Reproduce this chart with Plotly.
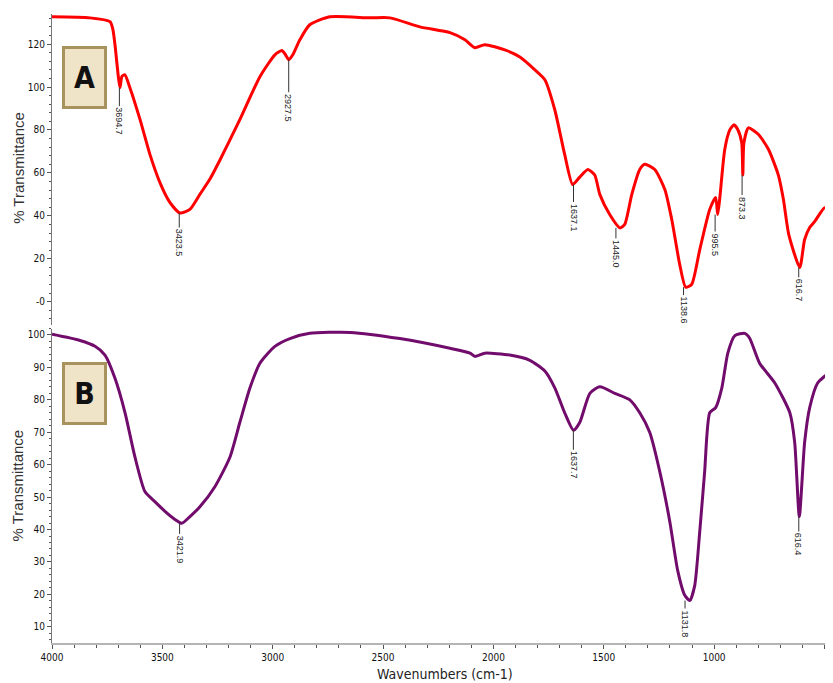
import plotly.graph_objects as go

# ---- Spectrum A (red) ----
wn_a = [4000, 3828, 3737, 3724, 3715, 3692, 3683, 3670, 3647, 3601, 3556, 3511, 3466,
        3420, 3375, 3330, 3285, 3239, 3149, 3058, 2990, 2958, 2945, 2927, 2909, 2877,
        2832, 2741, 2560, 2469, 2333, 2197, 2129, 2084, 2039, 1948, 1880, 1812, 1767,
        1722, 1677, 1641, 1609, 1572, 1541, 1518, 1473, 1427, 1405, 1373, 1337, 1314,
        1269, 1223, 1192, 1156, 1129, 1102, 1065, 1020, 993, 984, 975, 952, 929, 910,
        892, 875, 870, 865, 845, 800, 754, 709, 686, 662, 612, 590, 567, 544, 499, 476]
tr_a = [132.7, 132.2, 130.4, 126.7, 120, 99.7, 105, 105.7, 99.7, 84.8, 68.5, 55.5, 46.3,
        41.3, 43, 50, 57, 66, 84.8, 104.8, 115, 117, 115.5, 112.7, 115, 122,
        129, 132.7, 132.2, 132.2, 128, 125.3, 122, 118.3, 119.7, 117.3, 114, 108, 103.4,
        89.4, 68.5, 54.6, 58, 61.6, 59, 50, 40.6, 34.4, 36, 50, 61.6, 64,
        61.6, 52.2, 38.3, 17.4, 6.8, 8, 24.3, 43, 48.6, 40.6, 47.6, 70.8, 80, 82.4,
        80, 74, 59, 74, 81, 78, 71, 59, 47.6, 31.4, 16, 29, 34.6, 37.4, 43.8, 42]

# ---- Spectrum B (purple) ----
wn_b = [4000, 3873, 3805, 3760, 3715, 3669, 3624, 3579, 3534, 3488, 3443, 3412, 3375,
        3330, 3262, 3194, 3149, 3103, 3058, 2990, 2922, 2832, 2650, 2424, 2197, 2106,
        2084, 2039, 1926, 1835, 1767, 1722, 1677, 1637, 1609, 1563, 1518, 1450, 1382,
        1337, 1292, 1246, 1201, 1165, 1133, 1110, 1088, 1065, 1043, 1020, 993, 965, 938,
        906, 861, 839, 794, 725, 657, 635, 614, 590, 567, 531, 480]
tr_b = [100.2, 98.3, 96.5, 93.8, 86.7, 76, 62.3, 51.7, 48.6, 45.6, 43.1, 41.9, 44,
        47, 53.2, 62.3, 73, 83.7, 91.3, 96.5, 98.9, 100.5, 100.8, 98.9, 95.9, 94.4,
        93.4, 94.4, 93.8, 92.2, 88.9, 83.7, 76, 70.6, 73, 82, 84, 82, 80,
        76, 70, 57.8, 42.5, 27.3, 19.7, 18.1, 22.7, 39.5, 57.8, 76, 77.6, 83.7, 94.4,
        99.8, 100.5, 99, 91.3, 85.2, 76, 66.9, 44, 66.9, 77.6, 85.2, 88.3]

# ---- Peak labels ----
peaks_a_x = [3694.7, 3423.5, 2927.5, 1637.1, 1445.0, 1138.6, 995.5, 873.3, 616.7]
peaks_a_y = [99.7, 41.3, 112.7, 54.6, 34.4, 6.8, 40.6, 59, 16]
peaks_a_len = [16, 12, 30, 15, 8, 5, 12, 15, 5]
peaks_b_x = [3421.9, 1637.7, 1131.8, 616.4]
peaks_b_y = [41.9, 70.6, 18.1, 44]
peaks_b_len = [8, 17, 5, 10]

x_ticks = [4000, 3500, 3000, 2500, 2000, 1500, 1000, 500]
ya_ticks = [0, 20, 40, 60, 80, 100, 120]
ya_labels = ["-0", "20", "40", "60", "80", "100", "120"]
yb_ticks = [10, 20, 30, 40, 50, 60, 70, 80, 90, 100]

RED = "#ff0000"
PURPLE = "#720c6c"
NARROW = "DejaVu Sans Condensed, Liberation Sans Narrow, Arial Narrow, sans-serif"
TICKFONT = dict(family=NARROW, size=10, color="#111")

fig = go.Figure()
fig.add_trace(go.Scatter(x=wn_a, y=tr_a, mode="lines", line=dict(color=RED, width=3, shape="spline", smoothing=0.6),
                         xaxis="x2", yaxis="y2", showlegend=False, hoverinfo="skip"))
fig.add_trace(go.Scatter(x=wn_b, y=tr_b, mode="lines", line=dict(color=PURPLE, width=3, shape="spline", smoothing=0.6),
                         xaxis="x", yaxis="y", showlegend=False, hoverinfo="skip"))

annotations = []
TXT_HALF = 18
for px, py, ln in zip(peaks_a_x, peaks_a_y, peaks_a_len):
    annotations.append(dict(x=px, y=py, xref="x2", yref="y2", text=f"{px:.1f}", textangle=90,
                            showarrow=True, arrowhead=0, arrowwidth=1, arrowcolor="#333", ax=0, ay=ln + TXT_HALF,
                            font=dict(family="Liberation Sans, Arial, sans-serif", size=9, color="#222")))
for px, py, ln in zip(peaks_b_x, peaks_b_y, peaks_b_len):
    annotations.append(dict(x=px, y=py, xref="x", yref="y", text=f"{px:.1f}", textangle=90,
                            showarrow=True, arrowhead=0, arrowwidth=1, arrowcolor="#333", ax=0, ay=ln + TXT_HALF,
                            font=dict(family="Liberation Sans, Arial, sans-serif", size=9, color="#222")))

# panel letters
for letter, yr in (("A", 0.899), ("B", 0.397)):
    annotations.append(dict(x=0.013, y=yr, xref="paper", yref="paper", text=f"<b>{letter}</b>", showarrow=False,
                            xanchor="left", yanchor="middle", width=37, height=55,
                            bgcolor="#efe3c8", bordercolor="#a8925e", borderwidth=3,
                            font=dict(family=NARROW, size=30, color="#111")))

# axis titles
for yc in (0.755, 0.25):
    annotations.append(dict(x=-0.044, y=yc, xref="paper", yref="paper", text="% Transmittance", textangle=-90,
                            showarrow=False, xanchor="center", yanchor="middle",
                            font=dict(family="Liberation Sans, Arial, sans-serif", size=15, color="#333")))
annotations.append(dict(x=0.505, y=-0.049, xref="paper", yref="paper", text="Wavenumbers (cm-1)",
                        showarrow=False, xanchor="center", yanchor="middle",
                        font=dict(family=NARROW, size=14, color="#222")))

# page body has an 8px default margin, so the figure is sized to fit the window
fig.update_layout(
    width=825, height=675,
    margin=dict(l=44, r=3, t=6, b=40),
    paper_bgcolor="white", plot_bgcolor="white",
    annotations=annotations,
    xaxis=dict(range=[4000, 475], domain=[0, 1], anchor="y", tickvals=x_ticks, automargin=False,
               ticks="outside", ticklen=4, tickcolor="#555", tickfont=TICKFONT,
               minor=dict(dtick=100, ticks="outside", ticklen=3, tickcolor="#555"),
               showline=True, linecolor="#b5b5b5", linewidth=2, showgrid=False, zeroline=False),
    xaxis2=dict(range=[4000, 475], domain=[0, 1], anchor="y2", matches="x", showticklabels=False, automargin=False,
                showline=False, showgrid=False, zeroline=False, ticks=""),
    yaxis=dict(range=[5, 102], domain=[0, 0.5], anchor="x", tickvals=yb_ticks, automargin=False,
               ticks="outside", ticklen=4, tickcolor="#555", tickfont=TICKFONT,
               minor=dict(dtick=2, ticks="outside", ticklen=2, tickcolor="#555"),
               showline=True, linecolor="#777", linewidth=1, showgrid=False, zeroline=False),
    yaxis2=dict(range=[-11, 134], domain=[0.505, 1], anchor="x2", tickvals=ya_ticks, ticktext=ya_labels, automargin=False,
                ticks="outside", ticklen=4, tickcolor="#555", tickfont=TICKFONT,
                minor=dict(dtick=4, ticks="outside", ticklen=2, tickcolor="#555"),
                showline=True, linecolor="#777", linewidth=1, showgrid=False, zeroline=False),
)

fig.write_html("out.html")
